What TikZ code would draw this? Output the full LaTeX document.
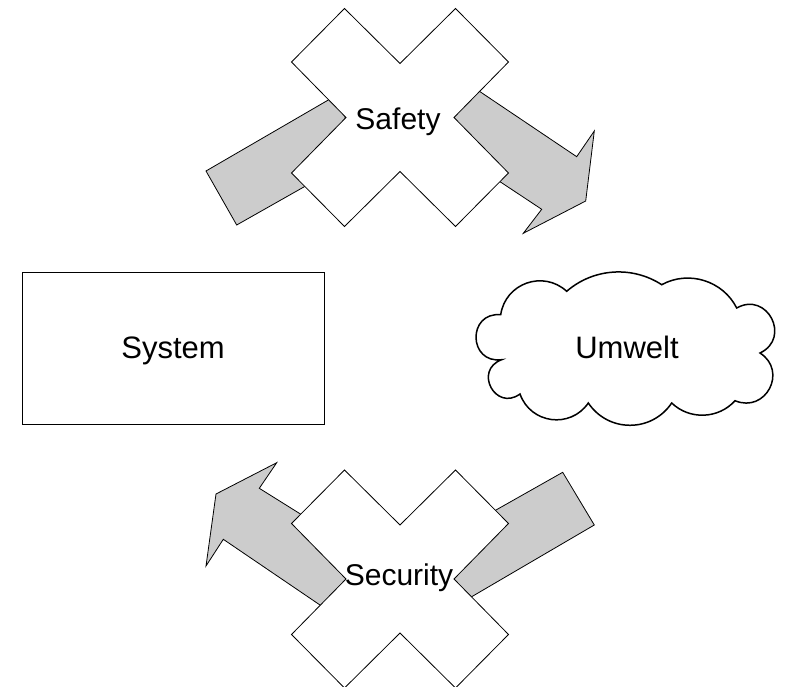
\documentclass[tikz,border=0pt]{standalone}
\usepackage{fontspec}
\setmainfont{Liberation Sans}
\usetikzlibrary{calc}

\definecolor{arrowgray}{HTML}{CCCCCC}

\tikzset{
  fatarrow/.style={draw=black, fill=arrowgray, line width=0.8pt, line join=miter},
  crossline/.style={draw=black, fill=white, line width=0.8pt, line join=miter},
  cloudline/.style={draw=black, fill=white, line width=1.5pt},
  boxline/.style={draw=black, fill=white, line width=1.3pt},
  bigtext/.style={font=\fontsize{30}{36}\selectfont, inner sep=0pt, anchor=base},
  boxtext/.style={font=\fontsize{31}{37}\selectfont, inner sep=0pt, anchor=base},
  xcross/.pic={
    \path[crossline] (-55.5,-109) -- (0,-54) -- (55.5,-109) -- (108.5,-55.5)
      -- (54,0) -- (108.5,55.5) -- (55.5,109) -- (0,54) -- (-55.5,109)
      -- (-108.5,55.5) -- (-54,0) -- (-108.5,-55.5) -- cycle;
  }
}

\begin{document}
\begin{tikzpicture}[x=1pt, y=-1pt]
\useasboundingbox (0,0) rectangle (785,687);

% ---- Safety: wide arrows passing under the cross ----
\path[fatarrow] (206,171) -- (236.7,225) -- (345,163.7) -- (345,90.3) -- cycle;
\path[fatarrow] (450,71.5) -- (576.7,156.7) -- (594.3,131) -- (585.7,201)
  -- (523.3,233.3) -- (541.7,209.3) -- (450,148.6) -- cycle;
\pic at (400,117.5) {xcross};
\node[bigtext] (safety) at (398,130) {Safety};

% ---- Security: wide arrows passing under the cross ----
\path[fatarrow] (350,625.4) -- (223.3,539.3) -- (206,566) -- (216,494)
  -- (276.7,462.7) -- (259.3,488.3) -- (350,545) -- cycle;
\path[fatarrow] (450,536) -- (562.7,472.3) -- (594.3,525) -- (450,609.4) -- cycle;
\pic at (400,579) {xcross};
\node[bigtext] (security) at (399,585) {Security};

% ---- System box ----
\path[boxline] (22.3,272.7) rectangle (324.3,424.3);
\node[boxtext] (system) at (173,358) {System};

% ---- Umwelt cloud, built from ten bumps between cusp points ----
\coordinate (k1) at (566.7,291.3);
\coordinate (k2) at (661.7,284.7);
\coordinate (k3) at (736.7,308);
\coordinate (k4) at (760,353);
\coordinate (k5) at (735,400.7);
\coordinate (k6) at (671.7,403);
\coordinate (k7) at (588.3,403);
\coordinate (k8) at (520,394);
\coordinate (k9) at (501.7,359.7);
\coordinate (k10) at (500.7,314.7);
\path[cloudline] (k1)
  .. controls ($(k1)!0.37!37:(k2)$) and ($(k2)!0.37!-37:(k1)$) .. (k2)
  .. controls ($(k2)!0.39!46:(k3)$) and ($(k3)!0.39!-46:(k2)$) .. (k3)
  .. controls ($(k3)!0.69!92:(k4)$) and ($(k4)!0.69!-92:(k3)$) .. (k4)
  .. controls ($(k4)!0.62!85:(k5)$) and ($(k5)!0.62!-85:(k4)$) .. (k5)
  .. controls ($(k5)!0.39!46:(k6)$) and ($(k6)!0.39!-46:(k5)$) .. (k6)
  .. controls ($(k6)!0.43!56:(k7)$) and ($(k7)!0.43!-56:(k6)$) .. (k7)
  .. controls ($(k7)!0.46!63:(k8)$) and ($(k8)!0.46!-63:(k7)$) .. (k8)
  .. controls ($(k8)!0.78!98:(k9)$) and ($(k9)!0.78!-98:(k8)$) .. (k9)
  .. controls ($(k9)!0.75!96:(k10)$) and ($(k10)!0.75!-96:(k9)$) .. (k10)
  .. controls ($(k10)!0.455!62:(k1)$) and ($(k1)!0.455!-62:(k10)$) .. (k1)
  -- cycle;
\node[boxtext] (umwelt) at (627,358) {Umwelt};
\end{tikzpicture}
\end{document}
